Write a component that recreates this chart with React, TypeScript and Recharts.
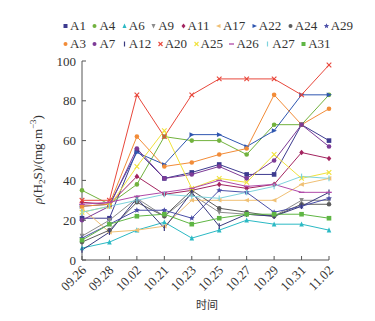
import React from 'react';
import { LineChart, Line, XAxis, YAxis } from 'recharts';

const dates = ['09.26', '09.28', '10.02', '10.21', '10.23', '10.25', '10.27', '10.29', '10.31', '11.02'];

const a1 = [21, 21, 55, 41, 44, 48, 43, 43, 68, 60];
const a3 = [27, 28, 62, 47, 49, 53, 56, 83, 68, 76];
const a4 = [35, 28, 38, 62, 60, 60, 53, 68, 68, 83];
const a6 = [6, 9, 15, 19, 11, 15, 20, 18, 18, 15];
const a7 = [20, 27, 56, 41, 43, 47, 41, 50, 68, 57];
const a9 = [12, 20, 31, 22, 33, 24, 23, 22, 30, 30];
const a11 = [29, 28, 42, 33, 35, 38, 36, 38, 54, 51];
const a12 = [5, 14, 31, 16, 34, 17, 23, 22, 27, 34];
const a17 = [26, 14, 15, 17, 30, 30, 30, 30, 38, 41];
const a20 = [30, 30, 83, 62, 83, 91, 91, 91, 83, 98];
const a22 = [27, 28, 54, 48, 63, 63, 57, 65, 83, 83];
const a24 = [9, 15, 29, 22, 35, 26, 24, 22, 28, 28];
const a25 = [24, 27, 47, 65, 36, 41, 39, 53, 41, 44];
const a26 = [28, 29, 32, 34, 36, 40, 37, 38, 34, 34];
const a27 = [24, 27, 30, 33, 32, 31, 34, 37, 42, 41];
const a29 = [11, 18, 25, 25, 21, 35, 34, 24, 27, 31];
const a31 = [10, 18, 22, 23, 18, 21, 23, 23, 23, 21];

const yTicks = [0, 20, 40, 60, 80, 100];

type Shape = 'square' | 'circle' | 'up' | 'down' | 'diamond' | 'left' | 'right' | 'star' | 'vbar' | 'cross' | 'dash';

type Series = { key: string; values: number[]; color: string; shape: Shape };

const series: Series[] = [
  { key: 'A1', values: a1, color: '#3d3a8f', shape: 'square' },
  { key: 'A4', values: a4, color: '#72b23e', shape: 'circle' },
  { key: 'A6', values: a6, color: '#2bb9c4', shape: 'up' },
  { key: 'A9', values: a9, color: '#8c8c8c', shape: 'down' },
  { key: 'A11', values: a11, color: '#a3245f', shape: 'diamond' },
  { key: 'A17', values: a17, color: '#f0c074', shape: 'left' },
  { key: 'A22', values: a22, color: '#2f56b0', shape: 'right' },
  { key: 'A24', values: a24, color: '#5c5c5c', shape: 'circle' },
  { key: 'A29', values: a29, color: '#4b4fa8', shape: 'star' },
  { key: 'A3', values: a3, color: '#f28c38', shape: 'circle' },
  { key: 'A7', values: a7, color: '#7d3b97', shape: 'circle' },
  { key: 'A12', values: a12, color: '#3a3a7e', shape: 'vbar' },
  { key: 'A20', values: a20, color: '#e8473b', shape: 'cross' },
  { key: 'A25', values: a25, color: '#f0e23c', shape: 'cross' },
  { key: 'A26', values: a26, color: '#b04aa8', shape: 'dash' },
  { key: 'A27', values: a27, color: '#7fd3dd', shape: 'vbar' },
  { key: 'A31', values: a31, color: '#5fb644', shape: 'square' },
];

const legendRows = [
  ['A1', 'A4', 'A6', 'A9', 'A11', 'A17', 'A22', 'A24', 'A29'],
  ['A3', 'A7', 'A12', 'A20', 'A25', 'A26', 'A27', 'A31'],
];

const data = dates.map((d, i) => {
  const row: { [k: string]: any } = { date: d };
  series.forEach((s) => {
    row[s.key] = s.values[i];
  });
  return row;
});

const serif = '"Liberation Serif", "Times New Roman", serif';

function Marker({ cx, cy, shape, color, s = 2.3 }: { cx: number; cy: number; shape: Shape; color: string; s?: number }) {
  switch (shape) {
    case 'square':
      return <rect x={cx - s} y={cy - s} width={2 * s} height={2 * s} fill={color} />;
    case 'circle':
      return <circle cx={cx} cy={cy} r={s} fill={color} />;
    case 'up':
      return <polygon points={`${cx},${cy - s - 0.5} ${cx - s},${cy + s} ${cx + s},${cy + s}`} fill={color} />;
    case 'down':
      return <polygon points={`${cx},${cy + s + 0.5} ${cx - s},${cy - s} ${cx + s},${cy - s}`} fill={color} />;
    case 'diamond':
      return <polygon points={`${cx},${cy - s - 0.5} ${cx + s},${cy} ${cx},${cy + s + 0.5} ${cx - s},${cy}`} fill={color} />;
    case 'left':
      return <polygon points={`${cx - s - 0.5},${cy} ${cx + s},${cy - s} ${cx + s},${cy + s}`} fill={color} />;
    case 'right':
      return <polygon points={`${cx + s + 0.5},${cy} ${cx - s},${cy - s} ${cx - s},${cy + s}`} fill={color} />;
    case 'star': {
      const pts: string[] = [];
      for (let k = 0; k < 10; k++) {
        const r = k % 2 === 0 ? s + 0.8 : (s + 0.8) * 0.45;
        const a = -Math.PI / 2 + (k * Math.PI) / 5;
        pts.push(`${cx + r * Math.cos(a)},${cy + r * Math.sin(a)}`);
      }
      return <polygon points={pts.join(' ')} fill={color} />;
    }
    case 'vbar':
      return <line x1={cx} x2={cx} y1={cy - s - 0.5} y2={cy + s + 0.5} stroke={color} strokeWidth={1.2} />;
    case 'cross':
      return (
        <g stroke={color} strokeWidth={1.1}>
          <line x1={cx - s} y1={cy - s} x2={cx + s} y2={cy + s} />
          <line x1={cx - s} y1={cy + s} x2={cx + s} y2={cy - s} />
        </g>
      );
    case 'dash':
      return <line x1={cx - s - 0.5} x2={cx + s + 0.5} y1={cy} y2={cy} stroke={color} strokeWidth={1.3} />;
    default:
      return null;
  }
}

const YTick = (props: any) => {
  const { x, y, payload } = props;
  return (
    <g>
      <line x1={x + 6} x2={x + 10} y1={y} y2={y} stroke="#555" />
      <text x={x} y={y} dy={4.5} textAnchor="end" fontFamily={serif} fontSize={13} fill="#333">
        {payload.value}
      </text>
    </g>
  );
};

const XTick = (props: any) => {
  const { x, y, payload } = props;
  const tx = x + 5;
  const ty = y + 11;
  return (
    <g>
      <line x1={x} x2={x} y1={y} y2={y - 4} stroke="#555" />
      <text x={tx} y={ty} textAnchor="end" fontFamily={serif} fontSize={13} fill="#333" transform={`rotate(-45, ${tx}, ${ty})`}>
        {payload.value}
      </text>
    </g>
  );
};

const YTitle = (props: any) => {
  const { viewBox } = props;
  const cx = 42;
  const cy = viewBox.y + viewBox.height / 2 - 1;
  return (
    <text x={cx} y={cy} transform={`rotate(-90, ${cx}, ${cy})`} textAnchor="middle" fontFamily={serif} fontSize={13} fill="#333">
      <tspan fontStyle="italic">ρ</tspan>
      <tspan>(H</tspan>
      <tspan fontSize={9} dy={3}>2</tspan>
      <tspan dy={-3}>S)/(mg·m</tspan>
      <tspan fontSize={9} dy={-6}>−3</tspan>
      <tspan dy={6}>)</tspan>
    </text>
  );
};

function Legend() {
  const byKey: { [k: string]: Series } = {};
  series.forEach((s) => (byKey[s.key] = s));
  return (
    <div style={{ position: 'absolute', left: 62, top: 17, fontFamily: serif, fontSize: 13, color: '#333' }}>
      {legendRows.map((row, ri) => (
        <div key={ri} style={{ display: 'flex', height: 18, alignItems: 'center', whiteSpace: 'nowrap' }}>
          {row.map((k) => (
            <span key={k} style={{ display: 'flex', alignItems: 'center', marginRight: 5.5 }}>
              <svg width={7} height={8} style={{ marginRight: 1 }}>
                <Marker cx={3.5} cy={4} shape={byKey[k].shape} color={byKey[k].color} s={2} />
              </svg>
              {k}
            </span>
          ))}
        </div>
      ))}
    </div>
  );
}

export default function App() {
  return (
    <div style={{ position: 'absolute', left: 0, top: 0, width: 375, height: 321, background: '#fff' }}>
      <Legend />
      <LineChart width={375} height={321} data={data} margin={{ top: 61, right: 46, left: 42, bottom: 21 }}>
        <XAxis
          dataKey="date"
          tick={<XTick />}
          tickLine={false}
          tickSize={0}
          tickMargin={0}
          interval={0}
          height={40}
          stroke="#555"
        />
        <YAxis
          domain={[0, 100]}
          ticks={yTicks}
          tick={<YTick />}
          tickLine={false}
          tickSize={0}
          tickMargin={6}
          width={40}
          stroke="#555"
          label={<YTitle />}
        />
        {series.map((s) => (
          <Line
            key={s.key}
            dataKey={s.key}
            type="linear"
            stroke={s.color}
            strokeWidth={1}
            isAnimationActive={false}
            dot={(p: any) => <Marker key={`${s.key}-${p.index}`} cx={p.cx} cy={p.cy} shape={s.shape} color={s.color} />}
          />
        ))}
        <text x={207} y={309} textAnchor="middle" fontFamily='"Noto Sans CJK SC", sans-serif' fontSize={11} fill="#333">
          时间
        </text>
      </LineChart>
    </div>
  );
}
